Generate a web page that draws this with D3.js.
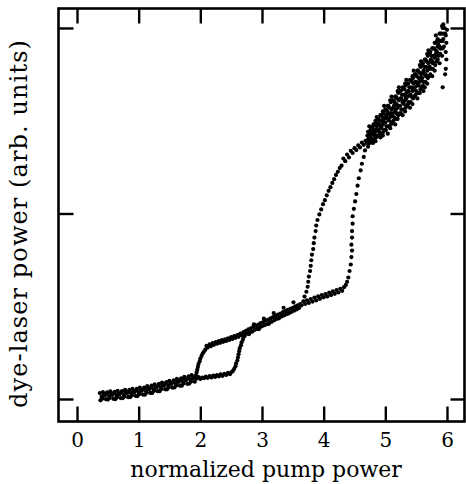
<!DOCTYPE html>
<html lang="en">
<head>
  <meta charset="UTF-8">
  <title>Dye-laser power vs normalized pump power</title>
  <style>
    * { margin: 0; padding: 0; box-sizing: border-box; }
    body { background: #fff; }
    svg { display: block; }
    .axis path { display: none; }
    .axis line { stroke: #000; stroke-width: 2.4; }
    .axis text { font-family: 'DejaVu Serif', serif; font-size: 20px; fill: #000; }
    .label { font-family: 'DejaVu Serif', serif; font-size: 22px; fill: #000; }
  </style>
  <script src="https://cdn.jsdelivr.net/npm/d3@7/dist/d3.min.js"></script>
</head>
<body>
  <svg id="chart" width="466" height="484"></svg>

  <script>
    // values, [normalized pump power, dye-laser power]
    const lowerBranch = [
      [0.38,-0.007],[0.40,0.012],[0.37,0.032],[0.41,0.002],[0.43,0.023],[0.42,0.037],
      [0.47,-0.001],[0.45,0.019],[0.48,0.030],[0.50,-0.003],[0.52,0.016],[0.49,0.036],
      [0.53,0.006],[0.55,0.027],[0.54,0.041],[0.59,0.001],[0.57,0.021],[0.60,0.032],
      [0.62,-0.001],[0.64,0.018],[0.61,0.038],[0.65,0.009],[0.67,0.030],[0.66,0.044],
      [0.71,0.005],[0.69,0.025],[0.72,0.036],[0.74,0.004],[0.76,0.023],[0.73,0.043],
      [0.77,0.014],[0.79,0.035],[0.78,0.049],[0.83,0.010],[0.81,0.030],[0.84,0.041],
      [0.86,0.010],[0.88,0.029],[0.85,0.049],[0.89,0.020],[0.91,0.041],[0.90,0.055],
      [0.95,0.017],[0.93,0.037],[0.96,0.048],[0.98,0.016],[1.00,0.035],[0.97,0.055],
      [1.01,0.026],[1.03,0.047],[1.02,0.061],[1.07,0.024],[1.05,0.044],[1.08,0.055],
      [1.10,0.023],[1.12,0.042],[1.09,0.062],[1.13,0.034],[1.15,0.055],[1.14,0.069],
      [1.19,0.033],[1.17,0.053],[1.20,0.064],[1.22,0.033],[1.24,0.052],[1.21,0.072],
      [1.25,0.044],[1.27,0.065],[1.26,0.079],[1.31,0.042],[1.29,0.062],[1.32,0.073],
      [1.34,0.042],[1.36,0.061],[1.33,0.081],[1.37,0.054],[1.39,0.075],[1.38,0.089],
      [1.43,0.052],[1.41,0.072],[1.44,0.083],[1.46,0.052],[1.48,0.071],[1.45,0.091],
      [1.49,0.063],[1.51,0.084],[1.50,0.098],[1.55,0.061],[1.53,0.081],[1.56,0.092],
      [1.58,0.062],[1.60,0.081],[1.57,0.101],[1.61,0.073],[1.63,0.094],[1.62,0.108],
      [1.67,0.072],[1.65,0.092],[1.68,0.103],[1.70,0.072],[1.72,0.091],[1.69,0.111],
      [1.73,0.084],[1.75,0.105],[1.74,0.119],[1.79,0.082],[1.77,0.102],[1.80,0.113],
      [1.82,0.083],[1.84,0.102],[1.81,0.122],[1.85,0.094],[1.87,0.115],[1.86,0.129],
      [1.91,0.093],[1.89,0.113],[1.92,0.124]
    ];

    // increasing pump, low state through the first loop
    const lowerLoop = [
      [1.94,0.110],[1.97,0.118],[2.00,0.108],[2.03,0.116],[2.06,0.112],[2.09,0.121],
      [2.12,0.114],[2.15,0.123],[2.18,0.116],[2.21,0.126],[2.24,0.119],[2.27,0.129],
      [2.30,0.122],[2.33,0.133],[2.36,0.125],[2.39,0.136],[2.42,0.130],[2.45,0.141],
      [2.48,0.134],[2.51,0.146],[2.53,0.152],[2.55,0.163],[2.57,0.176],[2.58,0.192],
      [2.60,0.207],[2.61,0.224],[2.62,0.241],[2.63,0.258],[2.64,0.274],[2.66,0.290],
      [2.67,0.306],[2.69,0.320],[2.70,0.334],[2.71,0.347]
    ];

    // decreasing pump, high state through the first loop
    const upperLoop = [
      [2.70,0.360],[2.67,0.344],[2.65,0.352],[2.62,0.335],[2.60,0.344],[2.57,0.330],
      [2.55,0.339],[2.52,0.324],[2.50,0.333],[2.47,0.318],[2.45,0.327],[2.42,0.313],
      [2.40,0.322],[2.37,0.308],[2.35,0.317],[2.32,0.303],[2.30,0.312],[2.27,0.298],
      [2.25,0.307],[2.22,0.292],[2.20,0.301],[2.17,0.285],[2.15,0.294],[2.12,0.277],
      [2.10,0.286],[2.08,0.266],[2.06,0.256],[2.04,0.246],[2.02,0.232],[2.00,0.218],
      [1.99,0.203],[1.97,0.188],[1.96,0.173],[1.95,0.158],[1.94,0.143],[1.93,0.128]
    ];

    const middleBranch = [
      [2.72,0.340],[2.74,0.368],[2.76,0.352],[2.78,0.375],[2.80,0.359],[2.82,0.381],
      [2.84,0.363],[2.86,0.390],[2.88,0.372],[2.90,0.395],[2.92,0.378],[2.94,0.401],
      [2.96,0.384],[2.98,0.409],[3.00,0.392],[3.02,0.415],[3.04,0.398],[3.06,0.422],
      [3.08,0.403],[3.10,0.428],[3.12,0.410],[3.14,0.435],[3.16,0.417],[3.18,0.442],
      [3.20,0.425],[3.22,0.449],[3.24,0.432],[3.26,0.455],[3.28,0.438],[3.30,0.461],
      [3.32,0.445],[3.34,0.468],[3.36,0.451],[3.38,0.474],[3.40,0.457],[3.42,0.480],
      [3.44,0.463],[3.46,0.486],[3.48,0.470],[3.50,0.492],[3.52,0.476],[3.54,0.499],
      [3.56,0.483],[3.58,0.505],[3.60,0.490],[3.62,0.512],
      [2.79,0.350],[2.87,0.403],[2.95,0.377],[3.03,0.433],[3.11,0.405],[3.19,0.463],
      [3.27,0.434],[3.35,0.492],[3.43,0.462],[3.51,0.521],[3.59,0.490]
    ];

    // increasing pump: stays low, then jumps near 4.45
    const lowerJump = [
      [3.64,0.505],[3.67,0.526],[3.70,0.512],[3.73,0.532],[3.76,0.518],[3.79,0.539],
      [3.82,0.525],[3.85,0.546],[3.88,0.532],[3.91,0.553],[3.94,0.540],[3.97,0.560],
      [4.00,0.548],[4.03,0.566],[4.06,0.553],[4.09,0.573],[4.12,0.560],[4.15,0.580],
      [4.18,0.567],[4.21,0.587],[4.24,0.574],[4.27,0.594],[4.30,0.583],[4.33,0.603],
      [4.36,0.615],[4.38,0.632],
      [4.40,0.655],[4.42,0.690],[4.44,0.725],[4.45,0.765],[4.46,0.800],[4.45,0.832],
      [4.46,0.870],[4.46,0.905],[4.47,0.945],[4.47,0.985],[4.49,1.025],[4.51,1.065],
      [4.53,1.105],[4.55,1.150],[4.57,1.190],[4.60,1.232],[4.62,1.268],[4.65,1.305],
      [4.67,1.340]
    ];

    // decreasing pump: stays high, then drops near 3.75
    const upperJump = [
      [4.68,1.392],[4.65,1.370],[4.62,1.382],[4.59,1.356],[4.56,1.367],[4.53,1.342],
      [4.50,1.352],[4.47,1.326],[4.44,1.338],[4.41,1.302],[4.38,1.318],[4.35,1.282],
      [4.32,1.296],[4.29,1.258],[4.26,1.245],[4.23,1.225],[4.20,1.208],[4.17,1.185],
      [4.14,1.165],[4.11,1.142],[4.08,1.122],[4.05,1.098],[4.02,1.072],[3.99,1.050],
      [3.96,1.022],[3.93,0.995],[3.90,0.965],[3.88,0.935],[3.87,0.905],[3.85,0.870],
      [3.84,0.840],[3.83,0.808],[3.81,0.778],[3.80,0.748],[3.79,0.718],[3.78,0.690],
      [3.76,0.660],[3.75,0.632],[3.74,0.605],[3.72,0.578],[3.69,0.552]
    ];

    // broad band above 4.7 where both sweeps overlap
    const topBranch = [
      [4.72,1.36],[4.70,1.38],[4.73,1.40],[4.71,1.42],[4.72,1.44],
      [4.75,1.38],[4.74,1.41],[4.77,1.43],[4.76,1.45],[4.74,1.47],
      [4.80,1.38],[4.78,1.40],[4.81,1.43],[4.79,1.45],[4.80,1.47],
      [4.84,1.39],[4.82,1.42],[4.85,1.45],[4.83,1.48],[4.84,1.50],
      [4.87,1.42],[4.86,1.45],[4.89,1.48],[4.88,1.51],[4.86,1.52],
      [4.92,1.41],[4.90,1.44],[4.93,1.47],[4.91,1.50],[4.92,1.53],
      [4.96,1.42],[4.94,1.46],[4.97,1.49],[4.95,1.52],[4.96,1.55],
      [4.99,1.45],[4.98,1.49],[5.01,1.52],[5.00,1.56],[4.98,1.58],
      [5.04,1.43],[5.02,1.47],[5.05,1.51],[5.03,1.55],[5.04,1.58],
      [5.08,1.46],[5.06,1.50],[5.09,1.54],[5.07,1.57],[5.08,1.61],
      [5.11,1.49],[5.10,1.53],[5.13,1.57],[5.12,1.61],[5.10,1.63],
      [5.16,1.48],[5.14,1.52],[5.17,1.56],[5.15,1.60],[5.16,1.63],
      [5.20,1.51],[5.18,1.54],[5.21,1.58],[5.19,1.62],[5.20,1.66],
      [5.23,1.54],[5.22,1.58],[5.25,1.62],[5.24,1.66],[5.22,1.68],
      [5.28,1.53],[5.26,1.56],[5.29,1.60],[5.27,1.64],[5.28,1.68],
      [5.32,1.55],[5.30,1.59],[5.33,1.63],[5.31,1.67],[5.32,1.70],
      [5.35,1.58],[5.34,1.62],[5.37,1.66],[5.36,1.70],[5.34,1.72],
      [5.40,1.57],[5.38,1.60],[5.41,1.64],[5.39,1.68],[5.40,1.72],
      [5.44,1.59],[5.42,1.63],[5.45,1.67],[5.43,1.71],[5.44,1.74],
      [5.47,1.63],[5.46,1.67],[5.49,1.71],[5.48,1.75],[5.46,1.77],
      [5.52,1.62],[5.50,1.66],[5.53,1.70],[5.51,1.74],[5.52,1.77],
      [5.56,1.65],[5.54,1.69],[5.57,1.73],[5.55,1.76],[5.56,1.80],
      [5.59,1.68],[5.58,1.72],[5.61,1.76],[5.60,1.80],[5.58,1.82],
      [5.64,1.68],[5.62,1.71],[5.65,1.75],[5.63,1.79],[5.64,1.83],
      [5.68,1.70],[5.66,1.74],[5.69,1.78],[5.67,1.82],[5.68,1.86],
      [5.71,1.74],[5.70,1.78],[5.73,1.82],[5.72,1.86],[5.70,1.88],
      [5.76,1.74],[5.74,1.78],[5.77,1.81],[5.75,1.85],[5.76,1.89],
      [5.80,1.77],[5.78,1.81],[5.81,1.85],[5.79,1.89],[5.80,1.92],
      [5.83,1.82],[5.82,1.86],[5.85,1.90],[5.84,1.93],[5.82,1.96],
      [5.88,1.81],[5.86,1.85],[5.89,1.89],[5.87,1.93],[5.88,1.97],
      [5.92,1.85],[5.90,1.89],[5.93,1.93],[5.91,1.97],[5.92,2.01],
      [5.95,1.90],[5.94,1.94],[5.97,1.97],[5.96,2.00],[5.94,2.02],
      [5.98,1.78],[5.99,1.83],[5.98,1.87],[5.99,1.92],[5.98,1.96],[6.00,1.99],[5.97,1.75],
      [5.93,1.68],[5.62,1.66],
      [4.73,1.38],[4.72,1.40],[4.74,1.42],[4.73,1.44],
      [4.77,1.39],[4.76,1.41],[4.78,1.43],[4.77,1.46],
      [4.81,1.40],[4.80,1.43],[4.82,1.45],[4.81,1.48],
      [4.85,1.41],[4.84,1.44],[4.86,1.47],[4.85,1.49],
      [4.89,1.42],[4.88,1.45],[4.90,1.48],[4.89,1.51],
      [4.93,1.43],[4.92,1.46],[4.94,1.50],[4.93,1.53],
      [4.97,1.44],[4.96,1.48],[4.98,1.51],[4.97,1.54],
      [5.01,1.45],[5.00,1.49],[5.02,1.53],[5.01,1.56],
      [5.05,1.47],[5.04,1.51],[5.06,1.54],[5.05,1.58],
      [5.09,1.48],[5.08,1.52],[5.10,1.56],[5.09,1.60],
      [5.13,1.50],[5.12,1.54],[5.14,1.58],[5.13,1.61],
      [5.17,1.51],[5.16,1.55],[5.18,1.59],[5.17,1.63],
      [5.21,1.53],[5.20,1.57],[5.22,1.61],[5.21,1.65],
      [5.25,1.54],[5.24,1.58],[5.26,1.62],[5.25,1.66],
      [5.29,1.56],[5.28,1.60],[5.30,1.64],[5.29,1.67],
      [5.33,1.57],[5.32,1.61],[5.34,1.65],[5.33,1.69],
      [5.37,1.59],[5.36,1.63],[5.38,1.66],[5.37,1.70],
      [5.41,1.60],[5.40,1.64],[5.42,1.68],[5.41,1.72],
      [5.45,1.62],[5.44,1.66],[5.46,1.70],[5.45,1.73],
      [5.49,1.64],[5.48,1.68],[5.50,1.71],[5.49,1.75],
      [5.53,1.65],[5.52,1.69],[5.54,1.73],[5.53,1.77],
      [5.57,1.67],[5.56,1.71],[5.58,1.75],[5.57,1.79],
      [5.61,1.69],[5.60,1.73],[5.62,1.77],[5.61,1.81],
      [5.65,1.71],[5.64,1.75],[5.66,1.79],[5.65,1.83],
      [5.69,1.73],[5.68,1.77],[5.70,1.81],[5.69,1.85],
      [5.73,1.75],[5.72,1.79],[5.74,1.83],[5.73,1.87],
      [5.77,1.78],[5.76,1.82],[5.78,1.85],[5.77,1.89],
      [5.81,1.80],[5.80,1.84],[5.82,1.88],[5.81,1.92],
      [5.85,1.83],[5.84,1.87],[5.86,1.91],[5.85,1.94],
      [5.89,1.86],[5.88,1.90],[5.90,1.93],[5.89,1.97],
      [5.93,1.89],[5.92,1.93],[5.94,1.97],[5.93,2.00]
    ];

    const xTicks = [0, 1, 2, 3, 4, 5, 6];
    const yTicks = [0, 1, 2];
    const xTitle = 'normalized pump power';
    const yTitle = 'dye-laser power (arb. units)';

    const box = { left: 58.5, right: 464.5, top: 8.5, bottom: 421.5 };
    const svg = d3.select('#chart');

    const x = d3.scaleLinear().domain([-0.300, 6.284]).range([box.left, box.right]);
    const y = d3.scaleLinear().domain([-0.1213, 2.105]).range([box.bottom, box.top]);

    // inward ticks on all four sides, labels only at the bottom
    svg.append('g').attr('class', 'axis')
      .attr('transform', `translate(0,${box.bottom})`)
      .call(d3.axisBottom(x).tickValues(xTicks).tickSize(-15).tickPadding(11).tickFormat(d3.format('d')));
    svg.append('g').attr('class', 'axis')
      .attr('transform', `translate(0,${box.top})`)
      .call(d3.axisTop(x).tickValues(xTicks).tickSize(-15).tickFormat(''));
    svg.append('g').attr('class', 'axis')
      .attr('transform', `translate(${box.left},0)`)
      .call(d3.axisLeft(y).tickValues(yTicks).tickSize(-15).tickFormat(''));
    svg.append('g').attr('class', 'axis')
      .attr('transform', `translate(${box.right},0)`)
      .call(d3.axisRight(y).tickValues(yTicks).tickSize(-14).tickFormat(''));

    svg.append('rect')
      .attr('x', box.left).attr('y', box.top)
      .attr('width', box.right - box.left).attr('height', box.bottom - box.top)
      .attr('fill', 'none').attr('stroke', '#000').attr('stroke-width', 2.6);

    const points = [].concat(lowerBranch, lowerLoop, upperLoop, middleBranch, lowerJump, upperJump, topBranch);

    svg.append('g')
      .selectAll('circle')
      .data(points)
      .join('circle')
      .attr('cx', d => x(d[0]))
      .attr('cy', d => y(d[1]))
      .attr('r', 2.1)
      .attr('fill', '#000');

    svg.append('text').attr('class', 'label')
      .attr('x', 266).attr('y', 477)
      .attr('text-anchor', 'middle')
      .text(xTitle);

    svg.append('text').attr('class', 'label')
      .attr('transform', 'translate(27,224) rotate(-90)')
      .attr('text-anchor', 'middle')
      .attr('textLength', 368)
      .attr('lengthAdjust', 'spacing')
      .style('font-size', '24px')
      .text(yTitle);
  </script>
</body>
</html>
